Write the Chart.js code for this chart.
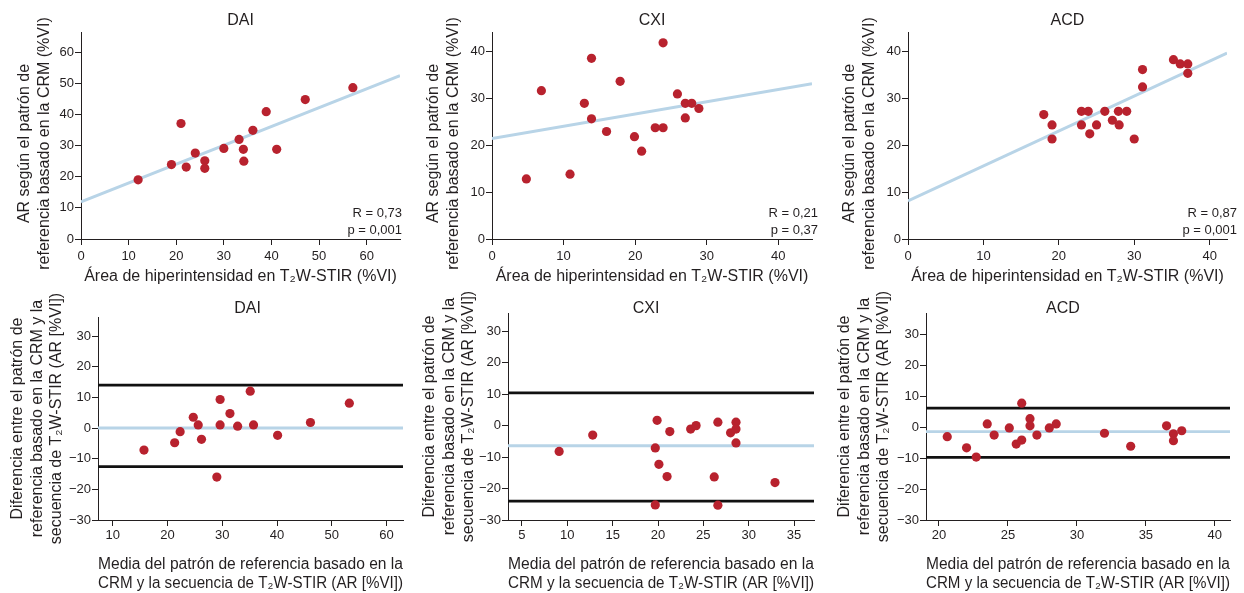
<!DOCTYPE html>
<html lang="es">
<head>
<meta charset="utf-8">
<title>AR según la CRM frente a T2W-STIR</title>
<script src="https://cdn.jsdelivr.net/npm/chart.js@4.4.0/dist/chart.umd.min.js"></script>
<style>
  html, body { margin: 0; padding: 0; background: #fff; }
  #panel { position: relative; width: 1244px; height: 593px; overflow: hidden; }
  #panel canvas { position: absolute; }
</style>
</head>
<body>
<div id="panel">
  <canvas id="corrDAI" width="415" height="290" style="left:0;top:0"></canvas>
  <canvas id="corrCXI" width="415" height="290" style="left:415px;top:0"></canvas>
  <canvas id="corrACD" width="414" height="290" style="left:830px;top:0"></canvas>
  <canvas id="baDAI" width="415" height="303" style="left:0;top:290px"></canvas>
  <canvas id="baCXI" width="415" height="303" style="left:415px;top:290px"></canvas>
  <canvas id="baACD" width="414" height="303" style="left:830px;top:290px"></canvas>
</div>
<script>
// Fila superior: área de hiperintensidad en T2W-STIR (x) frente a AR de la CRM (y)
const daiArea = [12, 19, 21, 22.1, 24, 26, 26, 30, 33.2, 34.1, 34.2, 36.1, 38.9, 41.1, 47.1, 57.1];
const daiAR   = [19, 23.9, 37.1, 23.1, 27.6, 25.1, 22.7, 29.1, 32, 28.8, 25, 34.9, 40.9, 28.8, 44.8, 48.6];
const cxiArea = [4.8, 6.9, 10.9, 12.9, 13.9, 13.9, 16, 17.9, 19.9, 20.9, 22.8, 23.9, 23.9, 25.9, 27, 27, 27.9, 28.9];
const cxiAR   = [12.8, 31.6, 13.8, 28.9, 38.5, 25.6, 22.9, 33.6, 21.8, 18.7, 23.7, 41.8, 23.7, 30.9, 28.9, 25.8, 28.9, 27.8];
const acdArea = [18, 19.1, 19.1, 23, 23, 23.9, 24.1, 25, 26.1, 27.1, 27.9, 28, 29, 30, 31.1, 31.1, 35.2, 36.1, 37.1, 37.1];
const acdAR   = [26.5, 24.3, 21.3, 27.2, 24.3, 27.2, 22.4, 24.3, 27.2, 25.3, 27.2, 24.3, 27.2, 21.3, 36.1, 32.4, 38.2, 37.3, 37.3, 35.3];

// Rectas de regresión y estadísticos [DAI, CXI, ACD]
const regIntercept = [11.9, 21.4, 8.1];
const regSlope     = [0.606, 0.261, 0.745];
const rValues = ['0,73', '0,21', '0,87'];
const pValues = ['0,001', '0,37', '0,001'];

// Fila inferior: Bland-Altman, media (x) frente a diferencia (y)
const daiMedia = [15.7, 21.3, 22.3, 24.7, 25.6, 26.2, 29, 29.6, 29.6, 31.4, 32.8, 35.1, 35.7, 40.1, 46.1, 53.2];
const daiDif   = [-7.2, -4.8, -1.2, 3.5, 1, -3.7, -16, 9.3, 1, 4.7, 0.6, 12, 1, -2.4, 1.8, 8.1];
const cxiMedia = [9.1, 12.8, 19.7, 19.7, 19.9, 20.1, 21, 21.3, 23.6, 24.2, 26.2, 26.6, 26.6, 28, 28.6, 28.6, 28.6, 32.9];
const cxiDif   = [-8.2, -3, -25.2, -7.1, 1.7, -12.3, -16.2, -1.9, -1.1, 0, -16.3, 1.1, -25.3, -2.3, 1.1, -1.1, -5.5, -18.1];
const acdMedia = [20.6, 22, 22.7, 23.5, 24, 25.1, 25.6, 26, 26, 26.6, 26.6, 27.1, 28, 28.5, 32, 33.9, 36.5, 37, 37, 37.6];
const acdDif   = [-3.1, -6.7, -9.7, 1, -2.6, -0.3, -5.5, 7.7, -4.2, 2.7, 0.4, -2.6, -0.3, 1, -2, -6.2, 0.4, -2.2, -4.4, -1.2];

// Sesgo medio y límites de concordancia [DAI, CXI, ACD]
const baMean  = [0, -6.4, -1.5];
const baUpper = [14, 10.4, 6.1];
const baLower = [-12.6, -24, -9.8];

const panelNames = ['DAI', 'CXI', 'ACD'];

const textColor = '#231f20';
const pointColor = '#b8222e';
const fitColor = '#b8d4e7';
const limitColor = '#111111';
const fontFamily = '"Liberation Sans", Arial, Helvetica, sans-serif';
const titleLine = 19.2;

const corrYTitle = ['AR según el patrón de', 'referencia basado en la CRM (%VI)'];
const corrXTitle = 'Área de hiperintensidad en T\u2082W-STIR (%VI)';
const baYTitle = ['Diferencia entre el patrón de', 'referencia basado en la CRM y la', 'secuencia de T\u2082W-STIR (AR [%VI])'];
const baXTitle = ['Media del patrón de referencia basado en la', 'CRM y la secuencia de T\u2082W-STIR (AR [%VI])'];

// Título del panel, título vertical del eje y, y en la fila superior R y p abajo a la derecha
const panelText = {
    id: 'panelText',
    afterDraw(chart, args, opts) {
        const { ctx, chartArea } = chart;
        ctx.save();
        ctx.fillStyle = textColor;
        ctx.textBaseline = 'middle';
        ctx.textAlign = 'center';
        ctx.font = '16px ' + fontFamily;
        ctx.fillText(opts.title, (chartArea.left + chartArea.right) / 2 + opts.titleDx, opts.titleY);

        const cy = (chartArea.top + chartArea.bottom) / 2 + opts.yTitleDy;
        opts.yTitle.forEach((line, i) => {
            ctx.save();
            ctx.translate(opts.yTitleX + i * titleLine, cy);
            ctx.rotate(-Math.PI / 2);
            ctx.fillText(line, 0, 0);
            ctx.restore();
        });

        if (opts.stats) {
            ctx.font = '13px ' + fontFamily;
            ctx.textAlign = 'right';
            opts.stats.forEach((line, i) => {
                ctx.fillText(line, chartArea.right + opts.statsDx, chartArea.bottom - 26 + i * 17);
            });
        }
        ctx.restore();
    }
};

function etiqueta(v) {
    return v < 0 ? '\u2212' + Math.abs(v) : String(v);
}

function puntos(xs, ys) {
    return xs.map((x, i) => ({ x: x, y: ys[i] }));
}

function recta(x0, x1, y0, y1, color, ancho) {
    return {
        data: [{ x: x0, y: y0 }, { x: x1, y: y1 }],
        showLine: true,
        borderColor: color,
        borderWidth: ancho,
        pointRadius: 0,
        pointHoverRadius: 0
    };
}

function crearPanel(id, datos, lineas, p) {
    const datasets = [{
        data: datos,
        pointRadius: 4.6,
        pointBackgroundColor: pointColor,
        pointBorderWidth: 0,
        showLine: false
    }].concat(lineas);

    const eje = (min, max, step, tickPad) => ({
        type: 'linear',
        min: min,
        max: max,
        border: { display: true, color: textColor, width: 1 },
        grid: { display: true, drawOnChartArea: false, drawTicks: true, tickLength: 6, color: textColor },
        ticks: {
            stepSize: step,
            includeBounds: false,
            color: textColor,
            padding: tickPad,
            maxRotation: 0,
            font: { family: fontFamily, size: 13 },
            callback: etiqueta
        }
    });

    const x = eje(p.xMin, p.xMax, p.xStep, p.xTickPad);
    x.title = {
        display: true,
        text: p.xTitle,
        color: textColor,
        font: { family: fontFamily, size: 16, lineHeight: 1.2 },
        padding: { top: 0, bottom: p.xTitlePad }
    };
    x.afterFit = s => { s.height = p.xHeight; };
    const y = eje(p.yMin, p.yMax, 10, 1);
    y.afterFit = s => { s.width = p.yWidth; };

    return new Chart(document.getElementById(id), {
        type: 'scatter',
        data: { datasets: datasets },
        options: {
            responsive: false,
            animation: false,
            devicePixelRatio: 1,
            layout: { padding: { top: p.top, right: p.right, left: 0, bottom: 0 } },
            scales: { x: x, y: y },
            plugins: {
                legend: { display: false },
                tooltip: { enabled: false },
                panelText: {
                    title: p.name,
                    titleY: p.titleY,
                    titleDx: p.titleDx || 0,
                    yTitle: p.yTitle,
                    yTitleX: p.yTitleX,
                    yTitleDy: p.yTitleDy || 0,
                    stats: p.stats,
                    statsDx: p.statsDx || 0
                }
            }
        },
        plugins: [panelText]
    });
}

// Gráficas de correlación
const corrSeries = [[daiArea, daiAR], [cxiArea, cxiAR], [acdArea, acdAR]];
const corrIds = ['corrDAI', 'corrCXI', 'corrACD'];
const corrXMax = [67, 44.7, 42.3];
const corrYMax = [66.5, 44.1, 44.1];
const corrYWidth = [81, 77, 78];
const corrRight = [15, 18, 17];
const corrTitleX = [25, 19, 20];
const corrStatsDx = [2, 6, 10];

corrSeries.forEach(([xs, ys], i) => {
    const xMax = corrXMax[i];
    const ajuste = recta(0, xMax, regIntercept[i], regIntercept[i] + regSlope[i] * xMax, fitColor, 3);
    crearPanel(corrIds[i], puntos(xs, ys), [ajuste], {
        name: panelNames[i],
        xMin: 0, xMax: xMax, xStep: 10,
        yMin: 0, yMax: corrYMax[i],
        xTitle: corrXTitle, yTitle: corrYTitle,
        xTitlePad: 3.4, xTickPad: 4,
        yTitleX: corrTitleX[i], yTitleDy: 8,
        xHeight: 51, yWidth: corrYWidth[i],
        top: 32, right: corrRight[i],
        titleY: 21,
        stats: ['R = ' + rValues[i], 'p = ' + pValues[i]],
        statsDx: corrStatsDx[i]
    });
});

// Gráficas de Bland-Altman
const baSeries = [[daiMedia, daiDif], [cxiMedia, cxiDif], [acdMedia, acdDif]];
const baIds = ['baDAI', 'baCXI', 'baACD'];
const baXMin = [7.3, 3.46, 19.06];
const baXMax = [63, 37.2, 41.1];
const baXStep = [10, 5, 5];
const baYMax = [36.2, 35.8, 36.8];
const baYWidth = [98, 93, 96];
const baRight = [12, 16, 14];
const baTop = [27, 23, 23];
const baTitleX = [18, 15, 15];
const baTitleDx = [-3, -15, -15];

baSeries.forEach(([xs, ys], i) => {
    const x0 = baXMin[i], x1 = baXMax[i];
    const lineas = [
        recta(x0, x1, baMean[i], baMean[i], fitColor, 2.8),
        recta(x0, x1, baUpper[i], baUpper[i], limitColor, 2.8),
        recta(x0, x1, baLower[i], baLower[i], limitColor, 2.8)
    ];
    crearPanel(baIds[i], puntos(xs, ys), lineas, {
        name: panelNames[i],
        xMin: x0, xMax: x1, xStep: baXStep[i],
        yMin: -30, yMax: baYMax[i],
        xTitle: baXTitle, yTitle: baYTitle,
        xTitlePad: 0, xTickPad: 2,
        yTitleX: baTitleX[i], yTitleDy: 0,
        xHeight: 73, yWidth: baYWidth[i],
        top: baTop[i], right: baRight[i],
        titleY: 18.7,
        titleDx: baTitleDx[i]
    });
});
</script>
</body>
</html>
